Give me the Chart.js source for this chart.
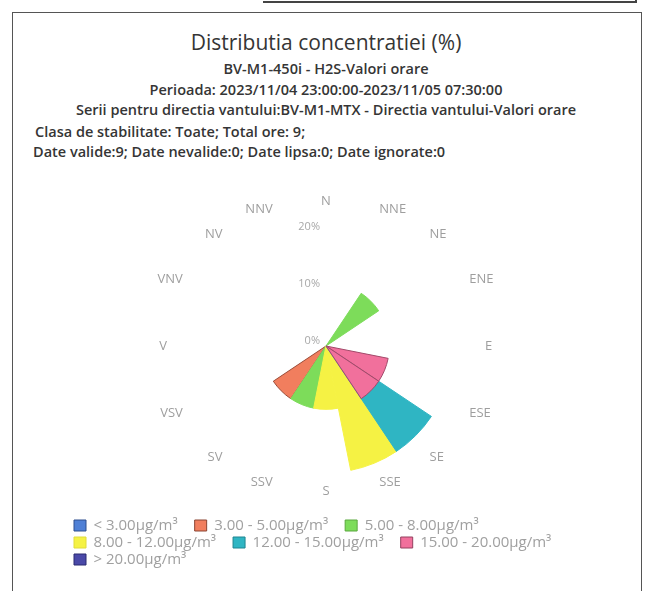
<!DOCTYPE html>
<html>
<head>
<meta charset="utf-8">
<script src="https://cdn.jsdelivr.net/npm/chart.js@4.4.1/dist/chart.umd.min.js"></script>
<style>
  html, body { margin: 0; padding: 0; background: #fff; width: 649px; height: 591px; overflow: hidden; font-family: "Open Sans", sans-serif; }
  .frame { position: absolute; left: 12px; top: 12px; width: 628px; height: 620px; border: 1px solid #555; }
  .topline { position: absolute; left: 263px; top: -10px; width: 372px; height: 11px; border-bottom: 2px solid #444; border-right: 2px solid #444; }
  .t { position: absolute; white-space: nowrap; color: #353535; }
  .c { left: 0; width: 652px; text-align: center; }
  .h1 { font-size: 21px; line-height: 28.6px; font-weight: 400; }
  .h2 { font-size: 14.5px; line-height: 19.75px; font-weight: 600; }
  #wrap { position: absolute; left: 72px; top: 193px; width: 508px; height: 384px; }
</style>
</head>
<body>
<div class="topline"></div>
<div class="frame"></div>
<div class="t c h1" style="top:27.6px">Distributia concentratiei (%)</div>
<div class="t c h2" style="top:58.5px">BV-M1-450i - H2S-Valori orare</div>
<div class="t c h2" style="top:79.5px">Perioada: 2023/11/04 23:00:00-2023/11/05 07:30:00</div>
<div class="t c h2" style="top:100px">Serii pentru directia vantului:BV-M1-MTX - Directia vantului-Valori orare</div>
<div class="t h2" style="left:35px;top:121.8px">Clasa de stabilitate: Toate; Total ore: 9;</div>
<div class="t h2" style="left:33px;top:141.8px">Date valide:9; Date nevalide:0; Date lipsa:0; Date ignorate:0</div>
<div id="wrap"><canvas id="chart"></canvas></div>
<script>
// ---- data ----
const directions = ['N','NNE','NE','ENE','E','ESE','SE','SSE','S','SSV','SV','VSV','V','VNV','NV','NNV'];
const classLabels = ['< 3.00µg/m³','3.00 - 5.00µg/m³','5.00 - 8.00µg/m³','8.00 - 12.00µg/m³','12.00 - 15.00µg/m³','15.00 - 20.00µg/m³','> 20.00µg/m³'];
// frequency (%) per direction, one array per concentration class
const freqBelow3   = [0,0,0,0,0,0,0,0,0,0,0,0,0,0,0,0];
const freq3to5     = [0,0,0,0,0,0,0,0,0,0,11.11,0,0,0,0,0];
const freq5to8     = [0,0,11.11,0,0,0,0,0,0,11.11,0,0,0,0,0,0];
const freq8to12    = [0,0,0,0,0,0,0,22.22,11.11,0,0,0,0,0,0,0];
const freq12to15   = [0,0,0,0,0,0,11.11,0,0,0,0,0,0,0,0,0];
const freq15to20   = [0,0,0,0,0,11.11,11.11,0,0,0,0,0,0,0,0,0];
const freqAbove20  = [0,0,0,0,0,0,0,0,0,0,0,0,0,0,0,0];
const tickValues = [0, 10, 20];

// ---- styles ----
const classFill   = ['#4f80d6','#f17e5e','#7ddc5a','#f5f244','#2fb5c3','#f1709c','#4a49a8'];
const arcBorder   = ['#4f80d6','#9a4a36','#7ddc5a','#f5f244','#2fb5c3','#a24a6a','#4a49a8'];
const legendEdge  = ['#2e4f8e','#8a4432','#5aa83e','#e0dc3a','#1f8591','#94405f','#2a2a70'];

const classes = [freqBelow3, freq3to5, freq5to8, freq8to12, freq12to15, freq15to20, freqAbove20];

// stacked from the centre outward: highest class innermost
const datasets = classes.map((vals, k) => ({
  label: classLabels[k],
  data: directions.map((_, i) => {
    let s = 0;
    for (let j = k; j < classes.length; j++) s += classes[j][i];
    return +s.toFixed(2);
  }),
  order: classes.length - 1 - k,
  backgroundColor: c => (c.dataIndex !== undefined && vals[c.dataIndex] > 0) ? classFill[k] : 'rgba(0,0,0,0)',
  borderColor: c => (c.dataIndex !== undefined && vals[c.dataIndex] > 0) ? arcBorder[k] : 'rgba(0,0,0,0)',
  borderWidth: c => (c.dataIndex !== undefined && vals[c.dataIndex] > 0) ? 1 : 0
}));

// direction labels sit a little further out at the sides than at top/bottom
const R_EXPECTED = 138;
function pointLabelPadding(c) {
  const th = c.index * 2 * Math.PI / directions.length;
  const s = Math.abs(Math.sin(th));
  return 138.5 + 21.5 * Math.pow(s, 2.5) - R_EXPECTED;
}

const tickLabelPlugin = {
  id: 'tickLabels',
  afterDraw(chart) {
    const r = chart.scales.r;
    const ctx = chart.ctx;
    ctx.save();
    ctx.font = '11px "Open Sans"';
    ctx.fillStyle = '#a8a8a8';
    ctx.textAlign = 'right';
    ctx.textBaseline = 'alphabetic';
    tickValues.forEach(v => {
      const d = r.getDistanceFromCenterForValue(v);
      ctx.fillText(v + '%', r.xCenter - 6, r.yCenter - d - 2);
    });
    ctx.restore();
  }
};

const legendGap = '\u2002\u2002';

new Chart(document.getElementById('chart'), {
  type: 'polarArea',
  data: { labels: directions, datasets: datasets },
  plugins: [tickLabelPlugin],
  options: {
    responsive: true,
    maintainAspectRatio: false,
    animation: false,
    layout: { padding: 0 },
    scales: {
      r: {
        min: 0,
        max: 24,
        startAngle: -11.25,
        grid: { display: false },
        angleLines: { display: false },
        ticks: { display: false },
        pointLabels: {
          display: true,
          centerPointLabels: true,
          color: '#9e9e9e',
          font: { family: '"Open Sans"', size: 13 },
          padding: pointLabelPadding
        }
      }
    },
    plugins: {
      tooltip: { enabled: false },
      legend: {
        position: 'bottom',
        align: 'start',
        title: { display: true, text: '', font: { size: 10 }, padding: { top: 0, bottom: 3.8 } },
        labels: {
          boxWidth: 12,
          boxHeight: 11,
          padding: 2,
          color: '#a0a0a0',
          font: { family: '"Open Sans"', size: 15 },
          generateLabels: (ch) => ch.data.datasets.map((ds, k) => ({
            text: ds.label + legendGap,
            fillStyle: classFill[k],
            strokeStyle: legendEdge[k],
            lineWidth: 1,
            hidden: false,
            datasetIndex: k,
            fontColor: '#a0a0a0'
          }))
        }
      }
    }
  }
});
</script>
</body>
</html>
